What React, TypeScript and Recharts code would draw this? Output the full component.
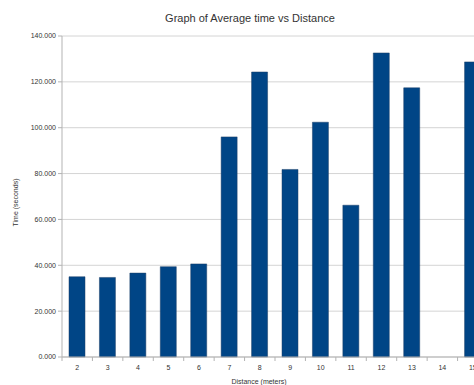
import { BarChart, Bar, XAxis, YAxis, CartesianGrid, Label } from 'recharts'

const distances = ['2', '3', '4', '5', '6', '7', '8', '9', '10', '11', '12', '13', '14', '15']
const avgTimes = [35.0, 34.7, 36.6, 39.4, 40.6, 96.0, 124.3, 81.8, 102.4, 66.2, 132.6, 117.4, null, 128.7]
const timeTicks = [0, 20, 40, 60, 80, 100, 120, 140]

const data = distances.map((d, i) => ({ distance: d, time: avgTimes[i] }))

const W = 500
const H = 385
const margin = { top: 36, right: 12, bottom: 0, left: 0 }
const yAxisWidth = 62
const plotWidth = W - margin.left - margin.right - yAxisWidth
const band = plotWidth / distances.length

const font = "'Liberation Sans', Arial, sans-serif"

// LibreOffice style: tick marks sit between categories, labels in the middle
function CategoryTick(props: any) {
  const { x, y, payload } = props
  const left = x - band / 2
  return (
    <g>
      <line x1={left} y1={y - 8} x2={left} y2={y - 4} stroke="#b3b3b3" />
      <text x={x} y={y + 5} textAnchor="middle" fontSize={7} fill="#333" fontFamily={font}>
        {payload.value}
      </text>
    </g>
  )
}

export default function App() {
  return (
    <div style={{ position: 'fixed', left: 0, top: 0, width: 474, height: 385, overflow: 'hidden', background: '#fff' }}>
      <div
        style={{
          position: 'absolute',
          top: 12,
          left: 0,
          width: W,
          textAlign: 'center',
          fontFamily: font,
          fontSize: 11,
          color: '#333',
        }}
      >
        Graph of Average time vs Distance
      </div>
      <BarChart width={W} height={H} data={data} margin={margin} barSize={16}>
        <CartesianGrid vertical={false} stroke="#d4d4d4" />
        <XAxis
          dataKey="distance"
          stroke="#b3b3b3"
          tickLine={false}
          tick={<CategoryTick />}
          height={28}
        >
          <Label
            value="Distance (meters)"
            position="insideBottom"
            offset={0}
            dx={-16}
            dy={-1}
            style={{ fontSize: 7, fill: '#333', fontFamily: font }}
          />
        </XAxis>
        <YAxis
          width={yAxisWidth}
          domain={[0, 140]}
          ticks={timeTicks}
          interval={0}
          stroke="#b3b3b3"
          tickSize={4}
          tickMargin={2}
          tickFormatter={(v: number) => v.toFixed(3)}
          tick={{ fontSize: 7, fill: '#333', fontFamily: font }}
        >
          <Label
            value="Time (seconds)"
            angle={-90}
            position="insideLeft"
            offset={16}
            dy={6}
            style={{ fontSize: 7, fill: '#333', fontFamily: font, textAnchor: 'middle' }}
          />
        </YAxis>
        <Bar dataKey="time" fill="#004586" stroke="#1d3f66" strokeWidth={0.5} isAnimationActive={false} />
      </BarChart>
    </div>
  )
}
